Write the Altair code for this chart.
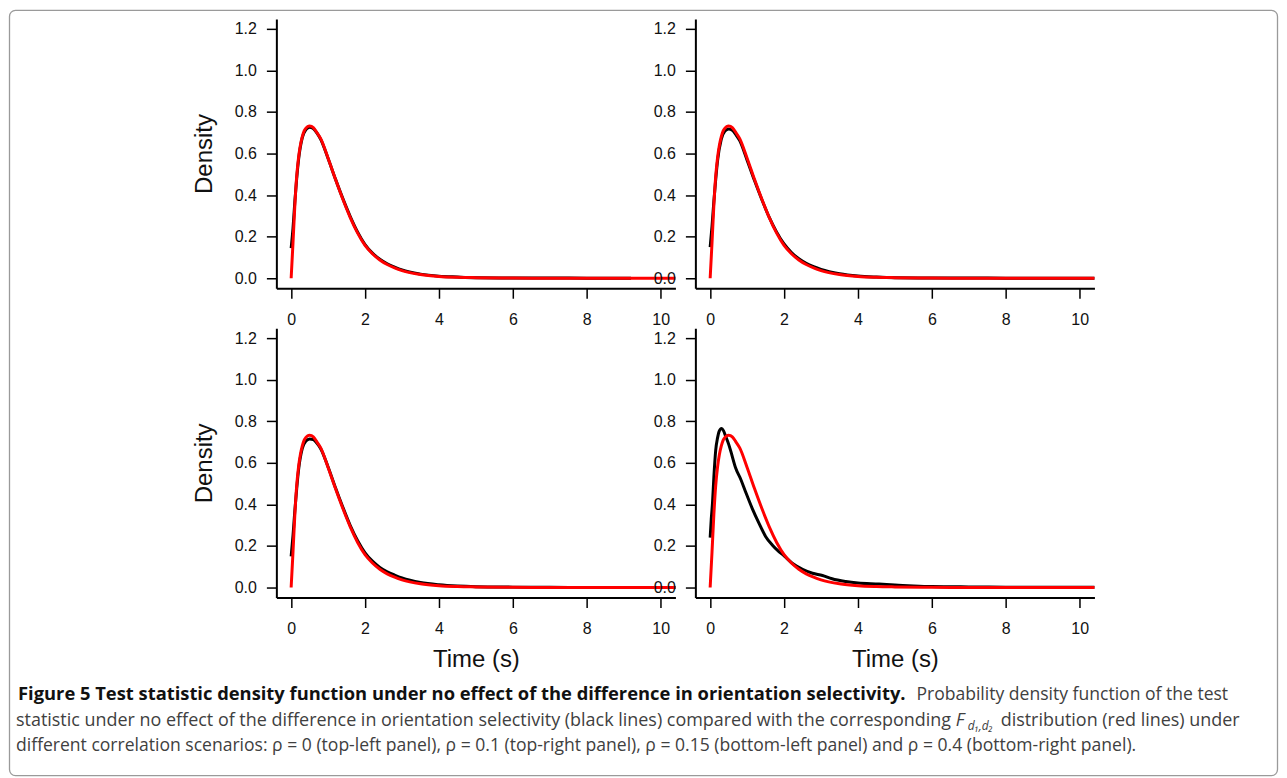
import altair as alt
import pandas as pd

# ---------------- data ----------------
RED_X = [0, 0.05, 0.1, 0.15, 0.2, 0.25, 0.3, 0.35, 0.4, 0.45, 0.5, 0.55, 0.6, 0.7, 0.8, 1.0, 1.2, 1.4, 1.6,
         1.8, 2.0, 2.2, 2.4, 2.6, 2.8, 3.0, 3.5, 4.0, 4.5, 5.0, 6.0, 7.0, 8.0, 9.0, 10.0, 10.6]
RED_Y = [0, 0.17, 0.35, 0.49, 0.58, 0.64, 0.68, 0.708, 0.722, 0.73, 0.733, 0.731, 0.725, 0.70, 0.672, 0.578,
         0.476, 0.38, 0.292, 0.217, 0.158, 0.118, 0.088, 0.066, 0.05, 0.037, 0.018, 0.009, 0.005, 0.003,
         0.001, 0.0005, 0.0002, 0, 0, 0]

TL_BLACK_X = [0, 0.05, 0.1, 0.15, 0.2, 0.3, 0.4, 0.5, 0.6, 0.7, 0.8, 1.0, 1.2, 1.4, 1.6, 1.8, 2.0, 2.2,
              2.4, 2.6, 2.8, 3.0, 3.5, 4.0, 4.5, 5.0, 6.0, 7.0, 8.0, 9.2]
TL_BLACK_Y = [0.145, 0.24, 0.37, 0.48, 0.57, 0.675, 0.715, 0.727, 0.72, 0.698, 0.668, 0.576, 0.477, 0.383,
              0.297, 0.222, 0.162, 0.121, 0.092, 0.070, 0.054, 0.040, 0.020, 0.010, 0.006, 0.003, 0.0015,
              0.001, 0.0005, 0.0003]

TR_BLACK_X = [0, 0.05, 0.1, 0.15, 0.2, 0.3, 0.4, 0.5, 0.6, 0.7, 0.8, 1.0, 1.2, 1.4, 1.6, 1.8, 2.0, 2.2,
              2.4, 2.6, 2.8, 3.0, 3.5, 4.0, 4.5, 5.0, 6.0, 7.0, 8.0, 9.0, 10.6]
TR_BLACK_Y = [0.15, 0.25, 0.37, 0.475, 0.565, 0.668, 0.708, 0.718, 0.712, 0.69, 0.662, 0.568, 0.47, 0.378,
              0.293, 0.222, 0.165, 0.124, 0.094, 0.072, 0.056, 0.043, 0.022, 0.011, 0.006, 0.003, 0.0015,
              0.001, 0.0005, 0.0003, 0.0002]

BL_BLACK_X = [0, 0.05, 0.1, 0.15, 0.2, 0.3, 0.4, 0.5, 0.6, 0.7, 0.8, 1.0, 1.2, 1.4, 1.6, 1.8, 2.0, 2.2,
              2.4, 2.6, 2.8, 3.0, 3.5, 4.0, 4.5, 5.0, 6.0, 7.0, 8.0, 9.0, 10.6]
BL_BLACK_Y = [0.15, 0.25, 0.37, 0.475, 0.565, 0.668, 0.705, 0.715, 0.712, 0.694, 0.668, 0.58, 0.48, 0.386,
              0.298, 0.225, 0.167, 0.127, 0.097, 0.076, 0.06, 0.046, 0.024, 0.013, 0.007, 0.004, 0.002,
              0.001, 0.0005, 0.0003, 0.0002]

BR_BLACK_X = [0, 0.03, 0.063, 0.1, 0.15, 0.2, 0.24, 0.31, 0.36, 0.42, 0.5, 0.56, 0.69, 0.83, 0.96, 1.14,
              1.32, 1.5, 1.68, 1.86, 2.0, 2.22, 2.5, 2.77, 3.04, 3.3, 3.67, 4.0, 4.57, 5.0, 5.5, 6.0, 7.0,
              8.0, 9.0, 10.0, 10.6]
BR_BLACK_Y = [0.24, 0.33, 0.406, 0.53, 0.66, 0.72, 0.75, 0.765, 0.755, 0.728, 0.69, 0.655, 0.575, 0.52,
              0.46, 0.38, 0.31, 0.246, 0.205, 0.173, 0.153, 0.117, 0.088, 0.069, 0.058, 0.042, 0.029, 0.022,
              0.017, 0.012, 0.008, 0.005, 0.003, 0.002, 0.001, 0.001, 0.001]

X_TICKS = [0, 2, 4, 6, 8, 10]
Y_TICKS = [0.0, 0.2, 0.4, 0.6, 0.8, 1.0, 1.2]
X_TITLE = "Time (s)"
Y_TITLE = "Density"

CAPTION_BOLD = "Figure 5 Test statistic density function under no effect of the difference in orientation selectivity."
CAPTION_L1 = "Probability density function of the test"
CAPTION_L2A = "statistic under no effect of the difference in orientation selectivity (black lines) compared with the corresponding"
CAPTION_F = "F"
CAPTION_SUB = "d\u2081,d\u2082"
CAPTION_L2B = "distribution (red lines) under"
CAPTION_L3 = ("different correlation scenarios: \u03c1 = 0 (top-left panel), \u03c1 = 0.1 (top-right panel), "
              "\u03c1 = 0.15 (bottom-left panel) and \u03c1 = 0.4 (bottom-right panel).")

# ---------------- styling ----------------
W, H = 400, 270
AX_FONT = "Liberation Sans"
CAP_FONT = "Open Sans"
CAP_SIZE = 17.6
CAP_L2_SIZE = 18.0
CAP_BOLD_SIZE = 18.4
OX, OY = 276, 17  # page position of the top-left plot area (used for caption placement)

xscale = alt.Scale(domain=[-0.4, 10.4], nice=False, zero=False)
yscale = alt.Scale(domain=[-0.048, 1.248], nice=False, zero=False)

common_axis = dict(
    domainColor="black", domainWidth=2, tickColor="black", tickWidth=1.5, tickSize=10,
    labelFont=AX_FONT, labelFontSize=16, labelColor="#111111", labelFlush=False, labelOverlap=False,
    titleFont=AX_FONT, titleFontSize=24, titleFontWeight="normal", titleColor="#111111", grid=False,
)


def panel(bx, by, rx, ry, y_title, x_title):
    xa = dict(common_axis, values=X_TICKS, format="d", labelPadding=13, titlePadding=11)
    ya = dict(common_axis, values=Y_TICKS, format=".1f", labelPadding=10, titlePadding=18)
    xa["title"] = X_TITLE if x_title else ""
    ya["title"] = Y_TITLE if y_title else ""
    xenc = alt.X("x:Q", scale=xscale, axis=alt.Axis(**xa))
    yenc = alt.Y("y:Q", scale=yscale, axis=alt.Axis(**ya))
    black = alt.Chart(pd.DataFrame({"x": bx, "y": by})).mark_line(
        color="black", strokeWidth=3, clip=True, interpolate="monotone"
    ).encode(x=xenc, y=yenc)
    red = alt.Chart(pd.DataFrame({"x": rx, "y": ry})).mark_line(
        color="#ff0000", strokeWidth=3, clip=True, interpolate="monotone"
    ).encode(x="x:Q", y="y:Q")
    return black, red


def txt(s, x, y, size=CAP_SIZE, weight="normal", style="normal", color="#404040", align="left"):
    return alt.Chart(pd.DataFrame({"t": [s]})).mark_text(
        align=align, baseline="alphabetic", font=CAP_FONT, fontSize=size,
        fontWeight=weight, fontStyle=style, color=color,
    ).encode(x=alt.value(x - OX), y=alt.value(y - OY), text="t:N")


box = alt.Chart(pd.DataFrame({"a": [0]})).mark_rect(
    fill="transparent", stroke="#9a9a9a", strokeWidth=1.3, cornerRadius=6
).encode(x=alt.value(8.5 - OX), x2=alt.value(1279.5 - OX), y=alt.value(8.5 - OY), y2=alt.value(775.5 - OY))

L1, L2, L3 = 700, 725.5, 751
caption = [
    box,
    txt(CAPTION_BOLD, 17, L1, size=CAP_BOLD_SIZE, weight="bold", color="#111111"),
    txt(CAPTION_L1, 1230, L1, align="right"),
    txt(CAPTION_L2A, 15, L2, size=CAP_L2_SIZE),
    txt(CAPTION_F, 957, L2, size=CAP_L2_SIZE, style="italic"),
    txt(CAPTION_SUB, 969, L2 + 4, size=12, style="italic"),
    txt(CAPTION_L2B, 1002, L2, size=CAP_L2_SIZE),
    txt(CAPTION_L3, 15, L3),
]

b, r = panel(TL_BLACK_X, TL_BLACK_Y, RED_X, RED_Y, True, False)
tl = alt.layer(b, r, *caption).properties(width=W, height=H)
b, r = panel(TR_BLACK_X, TR_BLACK_Y, RED_X, RED_Y, False, False)
tr = alt.layer(b, r).properties(width=W, height=H)
b, r = panel(BL_BLACK_X, BL_BLACK_Y, RED_X, RED_Y, True, True)
bl = alt.layer(b, r).properties(width=W, height=H)
b, r = panel(BR_BLACK_X, BR_BLACK_Y, RED_X, RED_Y, False, True)
br = alt.layer(b, r).properties(width=W, height=H)

chart = alt.concat(
    tl, tr, bl, br, columns=2, spacing={"row": 40, "column": 20}, bounds="flush"
).properties(
    padding={"left": 0, "top": 0, "right": 0, "bottom": 0}
).configure_view(strokeWidth=0, stroke="transparent")

chart.save("out.html", embed_options={"renderer": "svg", "actions": False})
